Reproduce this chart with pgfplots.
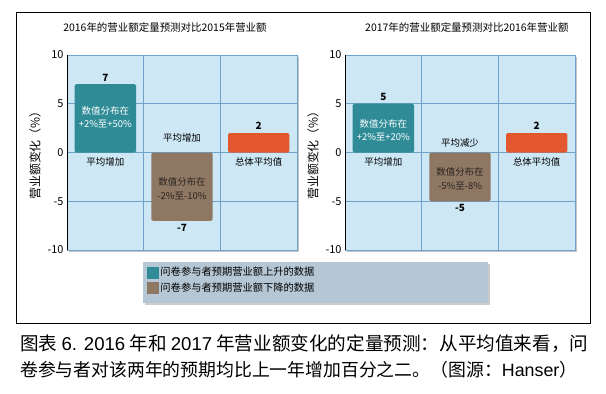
\documentclass[border=0pt]{standalone}
\usepackage{pgfplots}
\pgfplotsset{compat=1.18}
\usepackage{fontspec}
\setmainfont{Noto Sans CJK SC}
\newfontfamily\arial{Liberation Sans}
\usetikzlibrary{shadows}
\definecolor{bgblue}{HTML}{CDE7F5}
\definecolor{gridc}{HTML}{6FA2C8}
\definecolor{tealbar}{HTML}{2F8C97}
\definecolor{brownbar}{HTML}{8E7763}
\definecolor{orangebar}{HTML}{E2572E}
\definecolor{legbg}{HTML}{B5C7D4}
\definecolor{darktxt}{HTML}{2B2520}
\newcommand{\fs}[1]{\fontsize{#1}{#1}\selectfont}
\tikzset{
  vlab/.style={font=\bfseries\fs{10}, inner sep=3bp},
  clab/.style={font=\fs{9.5}},
  inlab/.style={font=\fontsize{9.5}{13.5}\selectfont, align=center},
}
\pgfplotsset{
  panel/.style={
    scale only axis, width=230bp, height=195bp,
    xmin=-0.5, xmax=2.5, ymin=-10, ymax=10,
    xtick={0.5,1.5}, xticklabels={}, xmajorgrids,
    ytick={-10,-5,0,5,10}, yticklabels={-10,-5,0,5,10},
    ymajorgrids,
    grid style={draw=gridc, line width=0.6bp},
    major tick length=0pt,
    axis line style={draw=gridc, line width=0.6bp},
    axis background/.style={fill=bgblue, drop shadow={shadow xshift=2bp, shadow yshift=-2bp, opacity=0.45, fill=gray}},
    yticklabel style={font=\fs{11}, text=black},
    ylabel={营业额变化（\%）},
    ylabel style={font=\fs{12}},
    title style={font=\fs{10.5}, anchor=base, yshift=18bp},
  },
}
\begin{document}
\begin{tikzpicture}[x=1bp,y=1bp]
\path[use as bounding box] (0,0) rectangle (606,393);
\draw[black, line width=0.8bp] (16,70) rectangle (590,381);
% left panel
\begin{axis}[panel, at={(67bp,143bp)}, anchor=south west,
  title={2016年的营业额定量预测对比2015年营业额},
  title style={at={(0.426,1)}},
  ]
\addplot[ybar, bar width=0.8, bar shift=0pt, fill=tealbar, draw=none, rounded corners=1.5bp] coordinates {(0,7)};
\addplot[ybar, bar width=0.8, bar shift=0pt, fill=brownbar, draw=none, rounded corners=1.5bp] coordinates {(1,-7)};
\addplot[ybar, bar width=0.8, bar shift=0pt, fill=orangebar, draw=none, rounded corners=1.5bp] coordinates {(2,2)};
\draw[black, line width=1.6bp] (rel axis cs:0,0) -- (rel axis cs:0,1);
\node[vlab, anchor=south] at (axis cs:0,7) {7};
\node[inlab, text=white] at (axis cs:0,3.6) {数值分布在\\+2\%至+50\%};
\node[clab, anchor=north] at (axis cs:0,-0.2) {平均增加};
\node[clab] at (axis cs:1,1.5) {平均增加};
\node[inlab, text=darktxt] at (axis cs:1,-3.7) {数值分布在\\-2\%至-10\%};
\node[vlab, anchor=north] at (axis cs:1,-7) {-7};
\node[vlab, anchor=south] at (axis cs:2,2) {2};
\node[clab, anchor=north] at (axis cs:2,-0.2) {总体平均值};
\end{axis}
% right panel
\begin{axis}[panel, at={(345bp,143bp)}, anchor=south west,
  title={2017年的营业额定量预测对比2016年营业额},
  title style={at={(0.53,1)}},
  ]
\addplot[ybar, bar width=0.8, bar shift=0pt, fill=tealbar, draw=none, rounded corners=1.5bp] coordinates {(0,5)};
\addplot[ybar, bar width=0.8, bar shift=0pt, fill=brownbar, draw=none, rounded corners=1.5bp] coordinates {(1,-5)};
\addplot[ybar, bar width=0.8, bar shift=0pt, fill=orangebar, draw=none, rounded corners=1.5bp] coordinates {(2,2)};
\draw[black, line width=1.6bp] (rel axis cs:0,0) -- (rel axis cs:0,1);
\node[vlab, anchor=south] at (axis cs:0,5) {5};
\node[inlab, text=white] at (axis cs:0,2.3) {数值分布在\\+2\%至+20\%};
\node[clab, anchor=north] at (axis cs:0,-0.2) {平均增加};
\node[clab] at (axis cs:1,1.0) {平均减少};
\node[inlab, text=darktxt] at (axis cs:1,-2.7) {数值分布在\\-5\%至-8\%};
\node[vlab, anchor=north] at (axis cs:1,-5) {-5};
\node[vlab, anchor=south] at (axis cs:2,2) {2};
\node[clab, anchor=north] at (axis cs:2,-0.2) {总体平均值};
\end{axis}
% legend box
\fill[legbg, drop shadow={shadow xshift=2bp, shadow yshift=-2bp, opacity=0.4, fill=gray}] (143,131) rectangle (488,90);
\begin{axis}[scale only axis, width=230bp, height=195bp, at={(67bp,143bp)}, anchor=south west,
  hide axis, xmin=0, xmax=1, ymin=0, ymax=1,
  legend style={draw=none, fill=none, at={(0.343,-0.072)}, anchor=north west,
    font=\fs{10.3}, row sep=1bp, inner sep=1bp, legend cell align=left}]
\addlegendimage{legend image code/.code={\fill[tealbar] (0bp,-5.5bp) rectangle (11bp,5.5bp);}}
\addlegendentry{问卷参与者预期营业额上升的数据}
\addlegendimage{legend image code/.code={\fill[brownbar] (0bp,-5.5bp) rectangle (11bp,5.5bp);}}
\addlegendentry{问卷参与者预期营业额下降的数据}
\end{axis}
\node[anchor=west, font=\fs{18}, inner sep=0] at (20,49.5) {\resizebox{568bp}{!}{图表 {\arial 6. 2016} 年和 {\arial 2017} 年营业额变化的定量预测：从平均值来看，问}};
\node[anchor=west, font=\fs{18}, inner sep=0] at (20,23) {\resizebox{557bp}{!}{卷参与者对该两年的预期均比上一年增加百分之二。（图源：{\arial Hanser}）}};
\end{tikzpicture}
\end{document}
